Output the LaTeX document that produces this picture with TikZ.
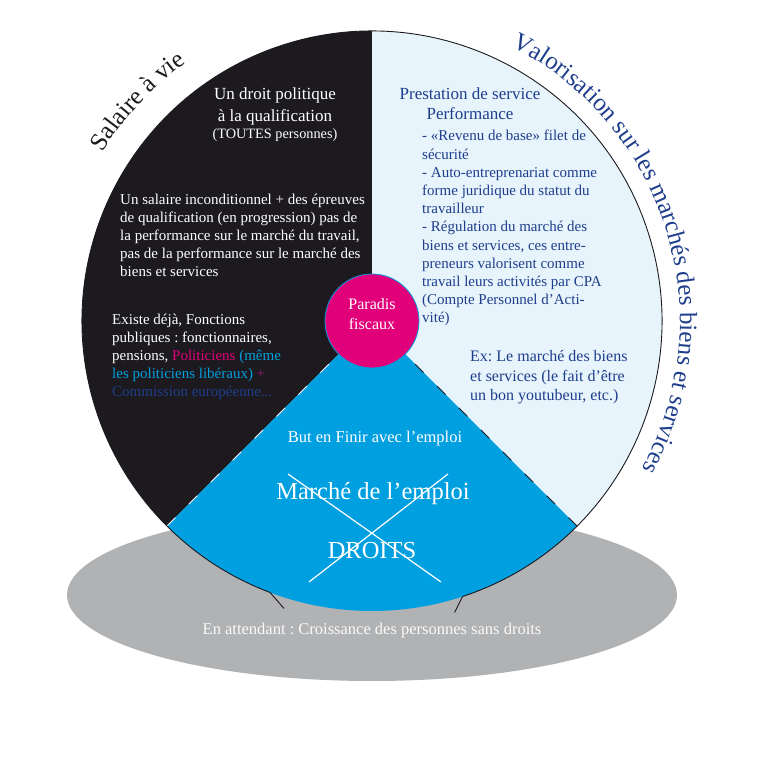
\documentclass[tikz,border=0pt]{standalone}
\usepackage{fontspec}
\setmainfont{Liberation Serif}
\usepackage{xcolor}
\usepackage{tikz}
\usetikzlibrary{decorations.text}
\frenchspacing

\definecolor{noir}{HTML}{1C1A1E}
\definecolor{bleuclair}{HTML}{E7F4FC}
\definecolor{bleu}{HTML}{009FE0}
\definecolor{rose}{HTML}{E2007A}
\definecolor{bleufonce}{HTML}{1E3E8C}
\definecolor{gris}{HTML}{B1B2B4}
\definecolor{violet}{HTML}{8C1B6C}

\begin{document}
\begin{tikzpicture}[x=1pt, y=1pt,
    texte/.style={inner sep=0pt, align=left, font=\fontsize{15}{18}\selectfont},
    blanc/.style={texte, text=white},
    marine/.style={texte, text=bleufonce},
    pointille/.style={line width=1pt, dash pattern=on 12pt off 19pt},
    contour/.style={line width=0.9pt, noir},
    croix/.style={white, line width=1.2pt}
]
\useasboundingbox (0,0) rectangle (760,760);
\coordinate (centre) at (372,439);

% ellipse grise derriere le disque
\fill[gris] (372,165) ellipse [x radius=305, y radius=86];

% les trois secteurs
\fill[noir] (centre) -- ([shift={(centre)}]90:290) arc[start angle=90, end angle=225, radius=290] -- cycle;
\fill[bleuclair] (centre) -- ([shift={(centre)}]-45:290) arc[start angle=-45, end angle=90, radius=290] -- cycle;
\fill[bleu] (centre) -- ([shift={(centre)}]-135:290) arc[start angle=-135, end angle=-45, radius=290] -- cycle;

\coordinate (bordG) at ([shift={(centre)}]225:290);
\coordinate (bordD) at ([shift={(centre)}]-45:290);
\draw[pointille, white] (bordG) -- (centre);
\draw[pointille, noir] (bordD) -- (centre);

% contour du disque
\draw[contour] ([shift={(centre)}]-71.8:290) coordinate (finD)
    arc[start angle=-71.8, end angle=249.4, radius=290] coordinate (finG);
\draw[contour] (finD) -- ++(-8,-16);
\draw[contour] (finG) -- ++(14,-16);

% paradis fiscaux
\node[circle, fill=rose, draw=bleu, line width=0.8pt, minimum size=94pt, inner sep=0pt] (paradis) at (centre) {};
\node[blanc, align=center, font=\fontsize{16}{20}\selectfont, anchor=base] (paradisTxt) at (372,430) {Paradis\\fiscaux};

% secteur noir
\node[blanc, align=center, font=\fontsize{17}{22}\selectfont, anchor=base] (droit) at (275,621)
    {Un droit politique\\à la qualification\\[-5pt]{\fontsize{14.3}{17}\selectfont(TOUTES personnes)}};
\node[blanc, anchor=base west] (salaire) at (120,483)
    {Un salaire inconditionnel + des épreuves\\de qualification (en progression) pas de\\la performance sur le marché du travail,\\pas de la performance sur le marché des\\biens et services};
\node[blanc, anchor=base west] (existe) at (112,363)
    {Existe déjà, Fonctions\\publiques : fonctionnaires,\\pensions, \textcolor{rose}{Politiciens} \textcolor{bleu}{(même}\\\textcolor{bleu}{les politiciens libéraux)} \textcolor{violet}{+}\\\textcolor{bleufonce}{Commission européenne...}};

% secteur bleu clair
\node[marine, align=center, font=\fontsize{17}{20}\selectfont, anchor=base] (prestation) at (470,640)
    {Prestation de service\\Performance};
\node[marine, anchor=base west, font=\fontsize{15}{18.2}\selectfont] (liste) at (422,437)
    {- «Revenu de base» filet de\\sécurité\\- Auto-entreprenariat comme\\forme juridique du statut du\\travailleur\\- Régulation du marché des\\biens et services, ces entre-\\preneurs valorisent comme\\travail leurs activités par CPA\\(Compte Personnel d’Acti-\\vité)};
\node[marine, anchor=base west, font=\fontsize{16}{19.5}\selectfont] (exemple) at (470,359)
    {Ex: Le marché des biens\\et services (le fait d’être\\un bon youtubeur, etc.)};

% secteur bleu
\node[blanc, anchor=base, font=\fontsize{16.5}{20}\selectfont] (but) at (375,317) {But en Finir avec l’emploi};
\node[blanc, anchor=base, font=\fontsize{24.5}{28}\selectfont] (marche) at (373,260) {Marché de l’emploi};
\node[blanc, anchor=base, font=\fontsize{24.5}{28}\selectfont] (droits) at (372,201) {DROITS};
\coordinate (croixA) at (288,286);
\coordinate (croixB) at (441,178);
\coordinate (croixC) at (448,286);
\coordinate (croixD) at (309,178);
\draw[croix] (croixA) -- (croixB);
\draw[croix] (croixC) -- (croixD);

% ellipse
\node[texte, text=white!94!gris, anchor=base, font=\fontsize{16.5}{20}\selectfont] (attente) at (372,125)
    {En attendant : Croissance des personnes sans droits};

% titres courbes
\path[decorate, decoration={text along path, text align=left, text color=noir,
    text={|\fontsize{25}{30}\selectfont|Salaire à vie}}]
    ([shift={(centre)}]148:318) arc[start angle=148, end angle=100, radius=318];
\path[decorate, decoration={text along path, text align=left, text color=bleufonce,
    text={|\fontsize{25}{30}\selectfont|Valorisation sur les marchés des biens et services}}]
    ([shift={(centre)}]63:308) arc[start angle=63, end angle=-45, radius=308];
\end{tikzpicture}
\end{document}
